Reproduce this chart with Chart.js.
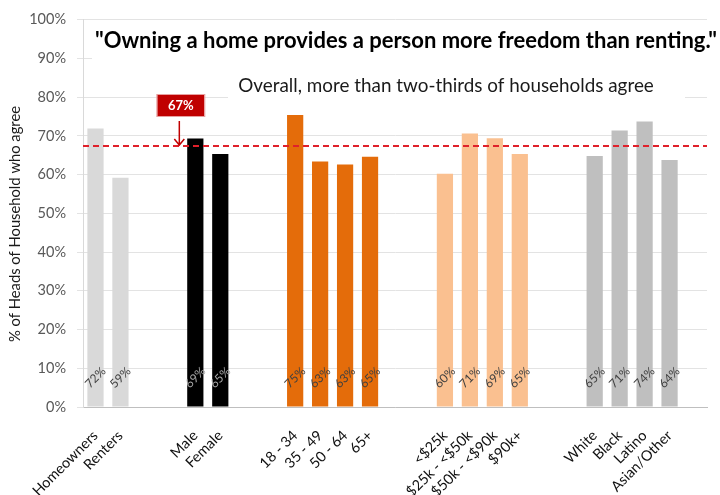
<!DOCTYPE html>
<html>
<head>
<meta charset="utf-8">
<script src="https://cdn.jsdelivr.net/npm/chart.js@4.4.0/dist/chart.umd.min.js"></script>
<style>
  html, body { margin: 0; padding: 0; background: #fff; }
  #wrap { width: 720px; height: 495px; }
</style>
</head>
<body>
<div id="wrap"><canvas id="chart"></canvas></div>
<script>
// categories, with empty slots used as gaps between the groups
const labels = ['Homeowners', 'Renters', '', '', 'Male', 'Female', '', '',
  '18 - 34', '35 - 49', '50 - 64', '65+', '', '',
  '<$25k', '$25k - <$50k', '$50k - <$90k', '$90k+', '', '',
  'White', 'Black', 'Latino', 'Asian/Other', ''];
const groups = ['tenure', 'tenure', null, null, 'gender', 'gender', null, null,
  'age', 'age', 'age', 'age', null, null,
  'income', 'income', 'income', 'income', null, null,
  'race', 'race', 'race', 'race', null];
// % of heads of household who agree
const values = [71.9, 59.2, null, null, 69.3, 65.3, null, null,
  75.4, 63.4, 62.6, 64.6, null, null,
  60.2, 70.6, 69.4, 65.3, null, null,
  64.8, 71.4, 73.7, 63.8, null];
const overall = 67.4;
const overallLabel = '67%';
const titleText = '"Owning a home provides a person more freedom than renting."';
const subtitleText = 'Overall, more than two-thirds of households agree';
const yTitle = '% of Heads of Household who agree';

const FONT = 'Lato, "Open Sans", sans-serif';
const palette = {
  tenure: '#d9d9d9',
  gender: '#000000',
  age: '#e46c0a',
  income: '#fac090',
  race: '#bfbfbf'
};

function fitFont(ctx, text, weight, width) {
  ctx.font = weight + ' 20px ' + FONT;
  const size = 20 * width / ctx.measureText(text).width;
  ctx.font = weight + ' ' + size.toFixed(2) + 'px ' + FONT;
}

const overlay = {
  id: 'overlay',
  beforeDatasetsDraw(chart) {
    const ctx = chart.ctx;
    ctx.save();
    // text boxes sit on white and hide the gridlines behind them
    ctx.fillStyle = '#ffffff';
    ctx.fillRect(92, 24, 628, 40);
    ctx.fillRect(228, 70, 457, 34);
    ctx.fillStyle = '#000000';
    ctx.textAlign = 'center';
    ctx.textBaseline = 'middle';
    fitFont(ctx, titleText, 'bold', 622);
    ctx.fillText(titleText, 406, 41);
    ctx.fillStyle = '#1a1a1a';
    fitFont(ctx, subtitleText, 'normal', 416);
    ctx.fillText(subtitleText, 446, 86);

    // y axis title
    ctx.save();
    ctx.translate(15, 224);
    ctx.rotate(-Math.PI / 2);
    ctx.fillStyle = '#1a1a1a';
    fitFont(ctx, yTitle, 'normal', 236);
    ctx.fillText(yTitle, 0, 0);
    ctx.restore();
    ctx.restore();
  },
  afterDatasetsDraw(chart) {
    const ctx = chart.ctx;
    const x = chart.scales.x, y = chart.scales.y;
    const area = chart.chartArea;
    const meta = chart.getDatasetMeta(0);
    ctx.save();

    // value labels, rotated, near the base of each bar
    ctx.font = '12px ' + FONT;
    ctx.textAlign = 'center';
    ctx.textBaseline = 'middle';
    const ly = y.getPixelForValue(7.6);
    values.forEach((v, i) => {
      if (v == null) return;
      ctx.save();
      ctx.translate(meta.data[i].x, ly);
      ctx.rotate(-Math.PI / 4);
      ctx.fillStyle = groups[i] === 'gender' ? '#a6a6a6' : '#404040';
      ctx.fillText(Math.round(v) + '%', 0, 0);
      ctx.restore();
    });

    // overall average line
    const oy = y.getPixelForValue(overall);
    ctx.strokeStyle = '#e0202a';
    ctx.lineWidth = 2;
    ctx.setLineDash([6, 4]);
    ctx.beginPath();
    ctx.moveTo(area.left, oy);
    ctx.lineTo(area.right, oy);
    ctx.stroke();
    ctx.setLineDash([]);

    // callout box and arrow
    const ax = x.getPixelForValue(4) - 16;
    const bx = ax + 1.5, bw = 47, bTop = 95, bh = 21;
    ctx.fillStyle = '#c00000';
    ctx.fillRect(bx - bw / 2, bTop, bw, bh);
    ctx.strokeStyle = '#e8a0a0';
    ctx.lineWidth = 1;
    ctx.strokeRect(bx - bw / 2 - 0.5, bTop - 0.5, bw + 1, bh + 1);
    ctx.fillStyle = '#ffffff';
    ctx.font = 'bold 13px ' + FONT;
    ctx.fillText(overallLabel, bx, bTop + bh / 2 + 0.5);

    ctx.strokeStyle = '#c00000';
    ctx.lineWidth = 1.5;
    ctx.beginPath();
    ctx.moveTo(ax, bTop + bh + 5);
    ctx.lineTo(ax, oy - 1);
    ctx.moveTo(ax - 5, oy - 7);
    ctx.lineTo(ax, oy - 1);
    ctx.lineTo(ax + 5, oy - 7);
    ctx.stroke();
    ctx.restore();
  }
};

new Chart(document.getElementById('chart'), {
  type: 'bar',
  data: {
    labels: labels,
    datasets: [{
      data: values,
      backgroundColor: groups.map(g => g ? palette[g] : 'transparent'),
      barPercentage: 0.65,
      categoryPercentage: 1.0
    }]
  },
  options: {
    responsive: true,
    maintainAspectRatio: false,
    animation: false,
    layout: { padding: { top: 18, right: 13, left: 0, bottom: 0 } },
    plugins: {
      legend: { display: false },
      tooltip: { enabled: false }
    },
    scales: {
      x: {
        grid: { display: false },
        border: { display: true, color: '#bfbfbf', width: 1 },
        ticks: {
          autoSkip: false,
          maxRotation: 45,
          minRotation: 45,
          padding: 12,
          color: '#111111',
          font: { family: FONT, size: 14.5 }
        },
        afterFit(scale) { scale.height = 88; }
      },
      y: {
        min: 0,
        max: 100,
        grid: { color: '#e3e3e3', tickLength: 6 },
        border: { display: true, color: '#d9d9d9' },
        ticks: {
          stepSize: 10,
          padding: 11,
          color: '#595959',
          font: { family: FONT, size: 14.5 },
          callback: v => v + '%'
        },
        afterFit(scale) { scale.width = 83; }
      }
    }
  },
  plugins: [overlay]
});
</script>
</body>
</html>
